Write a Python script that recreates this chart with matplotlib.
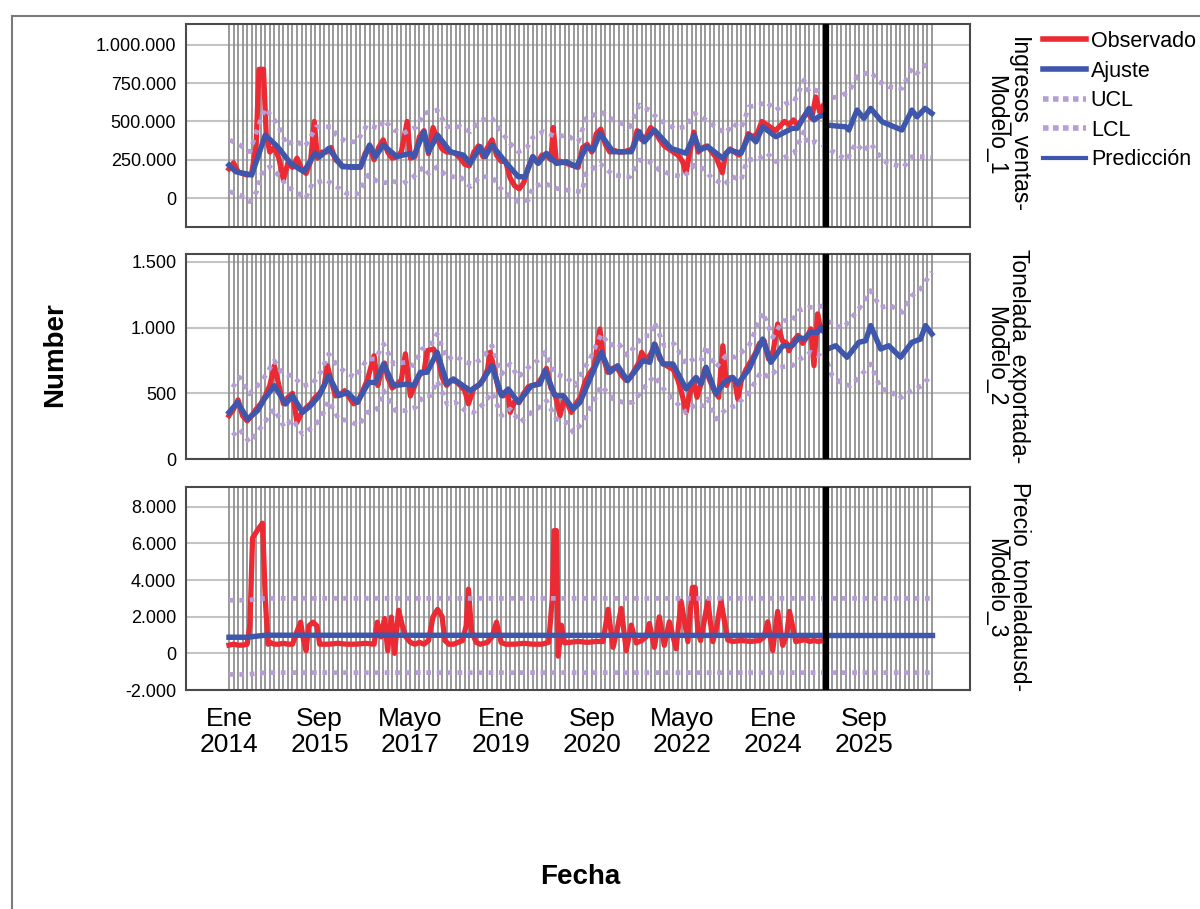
import matplotlib
matplotlib.use("Agg")
import matplotlib.pyplot as plt
from matplotlib.lines import Line2D
from matplotlib.ticker import FuncFormatter

plt.rcParams['font.family'] = ['Liberation Sans', 'DejaVu Sans']

# ---- data: (month index since Jan 2014, value) ----
# Panel 1: Ingresos_ventas (values in thousands)
ing_obs = [(0, 190), (1, 230), (2, 170), (3, 160), (4, 150), (5, 160), (6, 350), (6.6, 840), (7.6, 840),
           (8.2, 420), (9, 300), (10, 330), (11, 260), (12, 120), (13, 230), (14, 200), (15, 260), (16, 190),
           (17, 160), (18, 240), (18.8, 500), (19.5, 260), (20.5, 300), (21.5, 300), (22.5, 330), (23.5, 250),
           (25, 210), (27, 200), (29, 200), (30, 290), (31, 340), (32, 250), (33, 330), (34, 380), (35, 300),
           (36, 260), (37, 270), (38, 300), (39.3, 500), (40, 260), (41, 270), (42, 400), (43, 440), (44, 290),
           (45, 460), (46, 380), (47, 320), (48, 300), (49, 300), (50, 290), (51, 260), (52, 220), (53, 210),
           (54, 300), (55, 340), (56, 270), (57, 330), (58, 380), (59, 280), (60, 240), (61, 240), (62, 130),
           (63, 80), (64, 60), (65, 100), (66, 200), (67, 270), (68, 230), (69, 280), (70, 280), (71, 250),
           (71.5, 460), (72.2, 230), (73, 240), (74, 230), (75, 220), (76, 210), (77, 200), (78, 330), (79, 350),
           (80, 300), (81, 420), (82, 450), (83, 350), (84, 300), (85, 310), (86, 300), (87, 300), (88, 310),
           (89, 320), (90, 440), (91, 380), (92, 400), (93, 460), (94, 430), (95, 380), (96, 340), (97, 320),
           (98, 300), (99, 280), (100, 240), (100.8, 165), (101.5, 280), (102.5, 430), (103.5, 300),
           (104.5, 330), (105.5, 340), (106.5, 300), (107.5, 260), (108.8, 165), (109.5, 290), (110.5, 320),
           (111.5, 300), (112.5, 280), (113.5, 330), (114.5, 420), (115.5, 400), (116.5, 420), (117.5, 500),
           (118.5, 480), (119.5, 460), (120.5, 440), (121.5, 470), (122.5, 500), (123.5, 480), (124.5, 510),
           (125.5, 470), (126.5, 520), (127.5, 560), (128.5, 520), (129.4, 660), (130.3, 560), (131, 600)]
ing_fit = [(0, 215), (1.5, 172), (5, 150), (8, 411), (10.7, 335), (13.6, 226), (16.5, 172), (19, 293), (20, 270),
           (22, 324), (25, 204), (29, 204), (31, 346), (32.3, 270), (34, 346), (37, 270), (40, 292), (40.7, 270),
           (43, 433), (44, 302), (46, 411), (48.8, 302), (51.7, 280), (53.2, 226), (55.4, 335), (56.5, 270),
           (58, 346), (61.2, 226), (63.8, 139), (65.3, 139), (67, 270), (68.2, 226), (70, 292), (72.2, 226),
           (74.4, 237), (76.6, 204), (78.8, 335), (80.3, 313), (81.8, 422), (84.7, 302), (88.7, 302), (90.5, 433),
           (91.6, 367), (93.8, 444), (97.5, 324), (100.8, 292), (102.6, 411), (103.7, 313), (105.6, 335),
           (108.9, 259), (110.3, 313), (112.9, 292), (114.7, 411), (116.2, 367), (117.7, 465), (120.6, 400),
           (124.2, 455), (125.3, 455), (127.9, 585), (129, 509), (130, 530), (131, 541)]
ing_ucl = [(0.2, 378), (2.4, 346), (4.6, 302), (6.5, 470), (7.9, 585), (9.8, 520), (11.3, 444), (12.7, 346),
           (14.5, 378), (16.7, 335), (19.3, 465), (21.5, 465), (22.6, 465), (23.7, 411), (25.9, 367), (28.2, 367),
           (30.4, 476), (33.3, 455), (34.1, 509), (36.3, 444), (38.4, 422), (41.4, 465), (42.9, 552), (45.9, 574),
           (48.1, 465), (51, 465), (53.2, 433), (55.4, 509), (58, 520), (59.8, 444), (62, 357), (63.8, 302),
           (65.6, 324), (67.1, 400), (69.3, 433), (72.2, 400), (74.4, 411), (77, 367), (78.8, 520), (82.1, 563),
           (84.7, 509), (88.4, 465), (90.5, 607), (92.7, 574), (94.9, 509), (98.2, 455), (100.8, 465),
           (102.6, 552), (105.2, 509), (107.7, 455), (109.6, 422), (111, 487), (112.9, 455), (114.7, 596),
           (116.9, 607), (118.4, 628), (120.6, 574), (122.8, 617), (124.6, 628), (125.7, 694), (126.8, 770),
           (127.9, 694), (129.4, 705), (131, 672),
           (132, 653), (134.5, 660), (136.7, 694), (138.5, 792), (141.5, 824), (143.3, 759), (145.5, 727),
           (148.4, 716), (150.6, 847), (151.7, 814), (153.5, 868), (155, 850)]
ing_lcl = [(0.2, 41), (2.4, 20), (4.6, -24), (6.1, 41), (7.5, 183), (9, 204), (11.3, 139), (12.7, 74), (14.8, 41),
           (16.9, -2), (18.4, 96), (21.5, 117), (23.7, 74), (25.9, 30), (28.5, 30), (30.7, 150), (33.3, 96),
           (36.3, 107), (38.4, 96), (40.7, 139), (42.9, 204), (44, 161), (45.9, 204), (48.1, 139), (51, 139),
           (53.2, 74), (55.4, 139), (58, 139), (60.5, 41), (63.8, -24), (66, -13), (67.1, 74), (69.6, 96),
           (72.2, 63), (74.4, 52), (77.8, 41), (78.8, 161), (81.8, 226), (84.7, 150), (88.4, 139), (90.5, 248),
           (92.7, 237), (94.9, 183), (97.9, 150), (100.4, 139), (102.6, 215), (104.4, 194), (106.6, 128),
           (109.2, 85), (111, 139), (112.9, 117), (114.3, 248), (116.9, 259), (118.7, 292), (120.6, 237),
           (122.8, 270), (124.6, 292), (126.8, 433), (127.5, 357), (129.4, 367), (131, 346),
           (132, 324), (134.5, 281), (136.3, 248), (138.2, 357), (140, 302), (141.5, 357), (143.3, 281),
           (145.2, 226), (148.8, 204), (150.6, 270), (153.5, 270), (155, 265)]
ing_pred = [(132, 476), (134, 470), (136, 465), (136.7, 444), (138.5, 574), (140, 520), (141.5, 585), (144, 498),
            (148.4, 444), (150.6, 574), (151.7, 530), (153.5, 585), (155, 552)]

# Panel 2: Tonelada_exportada
ton_obs = [(0, 330), (1, 380), (2, 450), (3, 330), (4, 290), (5, 330), (6, 380), (7, 420), (8, 480), (9, 560),
           (10, 710), (11, 560), (12, 420), (13, 470), (14, 500), (15, 280), (16, 350), (17, 390), (18, 420),
           (19, 470), (20, 500), (21, 560), (21.7, 710), (22.5, 600), (23.5, 480), (24.5, 490), (25.5, 520),
           (26.5, 470), (27.5, 420), (28.5, 440), (29.5, 520), (30.5, 600), (32, 786), (32.8, 560), (33.5, 650),
           (34.3, 730), (35, 620), (36, 540), (37, 570), (38, 600), (38.9, 800), (40, 480), (41, 560), (42, 640),
           (43, 660), (43.7, 824), (45.1, 837), (46, 780), (47, 620), (48, 560), (49, 600), (50, 590), (51, 560),
           (52, 520), (52.8, 420), (54, 540), (55, 560), (56, 600), (57, 680), (57.6, 812), (58.5, 680),
           (59.5, 520), (60.5, 480), (61.5, 520), (62, 355), (63, 440), (64, 430), (65, 500), (66, 550), (67, 560),
           (68, 570), (69, 620), (70, 690), (71, 540), (72, 480), (73, 330), (74, 470), (75.5, 355), (76.5, 420),
           (77.5, 470), (78.5, 583), (79.5, 650), (80.5, 700), (81.8, 989), (82.5, 780), (83.5, 660), (84.5, 690),
           (85.5, 700), (86.5, 640), (87.5, 600), (88.5, 620), (89.5, 680), (90.5, 740), (91, 812), (92, 750),
           (93, 800), (94, 870), (95, 760), (96, 720), (97, 700), (98, 680), (99, 600), (100, 480), (100.8, 355),
           (101.5, 480), (102.5, 600), (103.2, 470), (104, 560), (105, 690), (106, 600), (107, 520), (108, 470),
           (108.9, 862), (109.7, 560), (110.5, 620), (111.5, 600), (112.2, 457), (113, 600), (114, 680),
           (115, 740), (116, 800), (117, 880), (118, 900), (119, 760), (120, 820), (121, 1027), (122, 900),
           (123, 880), (123.5, 824), (124.5, 900), (125.5, 940), (126.5, 880), (127.5, 930), (128.3, 990),
           (129, 710), (129.8, 1104), (130.5, 980), (131, 1000)]
ton_fit = [(0, 355), (1.9, 431), (4.1, 304), (6.3, 368), (7.8, 457), (10, 558), (12.5, 419), (14, 482), (16.2, 355),
           (18, 406), (19.9, 482), (22, 634), (24.2, 482), (26.1, 507), (28.3, 431), (30.8, 583), (32.3, 583),
           (34.1, 723), (36.3, 558), (39.3, 571), (40.7, 558), (42.2, 660), (43.7, 660), (45.9, 812), (48.1, 571),
           (49.5, 609), (53.2, 520), (55.4, 571), (58, 710), (60.1, 482), (61.6, 533), (63.8, 431), (66.7, 558),
           (68.6, 571), (69.7, 672), (71.9, 482), (73.7, 482), (75.9, 381), (77.4, 431), (78.8, 545), (82.1, 812),
           (84, 660), (85.7, 710), (87.9, 596), (91.3, 748), (92.8, 736), (93.8, 875), (95.7, 723), (97.9, 723),
           (100.8, 533), (103, 621), (104.1, 571), (105.2, 698), (107.4, 495), (109.2, 583), (111.1, 621),
           (112.2, 571), (114.7, 685), (117.7, 913), (119.5, 736), (122.1, 862), (124.2, 862), (125.7, 926),
           (126.8, 913), (128.3, 964), (129.8, 964), (130.5, 1002), (131, 977)]
ton_ucl = [(0.8, 545), (2.3, 622), (4.5, 495), (6.3, 558), (7.8, 622), (10, 748), (11.8, 647), (14, 634),
           (16.2, 558), (18.4, 571), (20.2, 660), (22, 799), (23.9, 710), (25.7, 660), (27.9, 622), (30.5, 761),
           (32.3, 761), (34.1, 875), (36.3, 723), (38.9, 736), (40.7, 710), (42.6, 837), (44.4, 862), (45.9, 951),
           (48.1, 761), (49.9, 786), (52.1, 736), (53.9, 723), (55.7, 761), (58, 862), (60.1, 647), (62, 723),
           (63.8, 622), (66.4, 710), (68.6, 761), (69.7, 812), (71.9, 647), (74.4, 622), (76.3, 558), (77.4, 634),
           (79.6, 761), (82.1, 951), (84, 862), (85.7, 888), (87.9, 786), (91.3, 938), (92.8, 938), (93.8, 1040),
           (96, 862), (98.2, 875), (100.8, 723), (103, 774), (104.5, 761), (105.2, 862), (107.4, 698),
           (109.6, 786), (111.8, 774), (114.7, 862), (117.7, 1116), (119.9, 926), (122.1, 1053), (124.2, 1053),
           (125.7, 1129), (127.9, 1154), (129.8, 1154), (131, 1167),
           (133, 1015), (135.6, 1002), (138.9, 1142), (141.5, 1281), (143.7, 1154), (145.9, 1167), (148.5, 1116),
           (150.6, 1243), (152.5, 1294), (155, 1421)]
ton_lcl = [(0.8, 178), (2.3, 228), (4.5, 127), (6.3, 203), (7.8, 279), (10, 381), (12.2, 241), (14, 304),
           (16.2, 190), (18.4, 241), (20.2, 304), (22, 444), (24.2, 304), (26.4, 292), (28.6, 254), (30.5, 355),
           (32.7, 381), (34.1, 520), (36.7, 368), (38.9, 368), (41.1, 393), (42.9, 482), (44.4, 482), (45.9, 596),
           (48.1, 419), (49.9, 431), (52.1, 368), (53.9, 355), (56.1, 419), (58, 507), (60.1, 330), (62, 381),
           (64.2, 279), (66.7, 355), (69, 406), (70, 444), (72.2, 304), (74.4, 279), (75.9, 203), (78.1, 279),
           (80.3, 431), (82.1, 558), (84.7, 457), (86.9, 431), (89.1, 431), (91.3, 533), (93.8, 634), (96.4, 507),
           (98.6, 431), (100.8, 355), (103, 419), (104.5, 406), (105.6, 457), (107.4, 304), (109.6, 381),
           (111.8, 406), (114.7, 507), (117.3, 660), (119.1, 622), (121.3, 698), (124.2, 710), (126, 761),
           (128.3, 812), (129.8, 786), (131, 824),
           (133, 634), (135.3, 571), (137, 558), (139.3, 634), (141.5, 723), (143.7, 533), (145.9, 520),
           (147.7, 457), (149.9, 507), (152.8, 558), (155, 640)]
ton_pred = [(132, 837), (133.8, 862), (136.3, 774), (138.9, 888), (140.4, 900), (141.5, 1015), (143.7, 837),
            (145.5, 862), (148.1, 774), (150.6, 888), (152.5, 913), (153.6, 1015), (155, 951)]

# Panel 3: Precio_toneladausd
pre_obs = [(0, 450), (1, 500), (2, 450), (3, 450), (4, 500), (4.6, 1500), (5.2, 6300), (6.5, 6800), (7.4, 7100),
           (8, 3000), (8.6, 500), (9, 600), (10, 500), (11, 500), (12, 550), (13, 500), (14, 500), (15, 1200),
           (15.8, 1700), (16.3, 900), (17, 150), (17.6, 1500), (18.5, 1700), (19.4, 1500), (20, 500), (22, 500),
           (24, 550), (26, 500), (28, 500), (30, 550), (32, 500), (32.7, 1700), (33.5, 900), (34.3, 1900),
           (35, 150), (35.8, 1980), (36.5, 0), (37.4, 2350), (38.2, 1540), (39, 900), (40, 600), (41, 500),
           (42, 600), (43, 500), (44, 700), (45, 2000), (46, 2400), (47, 2000), (47.6, 700), (48.5, 500),
           (49.5, 500), (50.5, 600), (51.5, 700), (52.3, 1500), (52.8, 3500), (53.5, 1200), (54.5, 600),
           (55.4, 500), (57, 600), (58, 900), (59, 1700), (60, 600), (61, 500), (63, 500), (65, 550), (67, 500),
           (69, 500), (70.5, 600), (71.3, 3000), (71.7, 6700), (72.2, 6700), (72.6, -150), (73.3, 1540),
           (74, 570), (75, 600), (77, 650), (79, 600), (81, 650), (82.5, 650), (83.6, 2400), (84.7, 330),
           (85.6, 1300), (86.5, 2450), (87.6, 150), (88.7, 1540), (89.8, 570), (91, 700), (92, 900), (92.7, 1630),
           (93.8, 330), (94.9, 1990), (96, 440), (97.1, 1720), (98.6, 250), (99.7, 2840), (101.2, 640),
           (101.8, 2500), (102.2, 3600), (102.8, 3600), (103.4, 1170), (104, 700), (105.6, 2840), (106.7, 640),
           (107.5, 1400), (108.5, 2840), (110, 730), (111, 650), (113, 700), (115, 650), (117, 700), (118, 900),
           (118.8, 1720), (119.9, 150), (121, 2290), (122.1, 440), (123, 1000), (123.6, 2290), (125, 640),
           (126, 700), (127, 750), (128, 650), (129, 700), (130, 650), (131, 700)]
pre_fit = [(0, 880), (4, 880), (8, 990), (131, 980)]
pre_ucl = [(0, 2900), (4, 2900), (8, 3000), (155, 3000)]
pre_lcl = [(0, -1150), (4, -1150), (8, -1050), (155, -1050)]
pre_pred = [(132, 980), (155, 980)]

n_months = 156
forecast_start = 131.6
date_ticks = [0, 20, 40, 60, 80, 100, 120, 140]
date_labels = ['Ene\n2014', 'Sep\n2015', 'Mayo\n2017', 'Ene\n2019', 'Sep\n2020', 'Mayo\n2022', 'Ene\n2024',
               'Sep\n2025']
panel_names = ['Ingresos_ventas-\nModelo_1', 'Tonelada_exportada-\nModelo_2', 'Precio_toneladausd-\nModelo_3']

RED = '#ec2a33'
BLUE = '#3e56ab'
LAV = '#b79dd6'


def xy(pairs, scale=1):
    return [p[0] for p in pairs], [p[1] * scale for p in pairs]


def thousands(v, pos):
    return f"{int(round(v)):,}".replace(",", ".")


fig = plt.figure(figsize=(12, 9.09), dpi=100)

panels = [
    dict(rect=[0.155, 0.7503, 0.6533, 0.2233], ylim=(-189000, 1136000), yticks=[0, 250000, 500000, 750000, 1000000],
         obs=ing_obs, fit=ing_fit, ucl=ing_ucl, lcl=ing_lcl, pred=ing_pred, scale=1000),
    dict(rect=[0.155, 0.4950, 0.6533, 0.2255], ylim=(0, 1559), yticks=[0, 500, 1000, 1500],
         obs=ton_obs, fit=ton_fit, ucl=ton_ucl, lcl=ton_lcl, pred=ton_pred, scale=1),
    dict(rect=[0.155, 0.2409, 0.6533, 0.2233], ylim=(-2000, 9075), yticks=[-2000, 0, 2000, 4000, 6000, 8000],
         obs=pre_obs, fit=pre_fit, ucl=pre_ucl, lcl=pre_lcl, pred=pre_pred, scale=1),
]

for i, p in enumerate(panels):
    ax = fig.add_axes(p['rect'])
    ax.set_xlim(-9.48, 163.4)
    ax.set_ylim(*p['ylim'])
    ax.set_yticks(p['yticks'])
    ax.yaxis.set_major_formatter(FuncFormatter(thousands))
    for yt in p['yticks']:
        ax.axhline(yt, color='#c4c4c4', lw=1.5, zorder=1)
    for m in range(n_months):
        ax.axvline(m, color='#8c8c8c', lw=1.25, zorder=1.5)
    s = p['scale']
    ax.plot(*xy(p['ucl'], s), color=LAV, lw=3.4, linestyle=(0, (1, 1.2)), dash_capstyle='butt', zorder=4)
    ax.plot(*xy(p['lcl'], s), color=LAV, lw=3.4, linestyle=(0, (1, 1.2)), dash_capstyle='butt', zorder=4)
    ax.plot(*xy(p['obs'], s), color=RED, lw=3.8, zorder=3)
    ax.plot(*xy(p['fit'], s), color=BLUE, lw=3.9, zorder=5)
    ax.plot(*xy(p['pred'], s), color=BLUE, lw=3.9, zorder=5)
    ax.axvline(forecast_start, color='black', lw=4.5, zorder=6)

    ax.tick_params(axis='y', length=0, pad=7, labelsize=13)
    ax.tick_params(axis='x', length=0, pad=12, labelsize=19)
    ax.set_xticks(date_ticks)
    if i == 2:
        ax.set_xticklabels(date_labels, linespacing=1.1)
    else:
        ax.set_xticklabels([])
    for sp in ax.spines.values():
        sp.set_color('#4a4a4a')
        sp.set_linewidth(1.5)

    ymid = p['rect'][1] + p['rect'][3] / 2
    fig.text(1007 / 1200, ymid, panel_names[i], rotation=270, ha='center', va='center',
             multialignment='center', fontsize=16.5, linespacing=0.95)

fig.text(55 / 1200, 1 - 355 / 909, 'Number', rotation=90, ha='center', va='center',
         fontsize=20, fontweight='bold')
fig.text(580 / 1200, 1 - 877 / 909, 'Fecha', ha='center', va='center', fontsize=20, fontweight='bold')

handles = [Line2D([], [], color=RED, lw=4),
           Line2D([], [], color=BLUE, lw=4),
           Line2D([], [], color=LAV, lw=4, linestyle=(0, (1, 0.8))),
           Line2D([], [], color=LAV, lw=4, linestyle=(0, (1, 0.8))),
           Line2D([], [], color=BLUE, lw=3)]
fig.legend(handles, ['Observado', 'Ajuste', 'UCL', 'LCL', 'Predicción'], loc='upper left',
           bbox_to_anchor=(1043 / 1200, 1 - 31 / 909), frameon=False, fontsize=15.5,
           handlelength=2.0, handletextpad=0.22, labelspacing=0.4, borderaxespad=0, borderpad=0)

# outer frame of the output viewer
fig.add_artist(Line2D([12 / 1200, 12 / 1200], [0, 1 - 16 / 909], transform=fig.transFigure,
                      color='#7a7a7a', lw=1.5))
fig.add_artist(Line2D([12 / 1200, 1], [1 - 16 / 909, 1 - 16 / 909], transform=fig.transFigure,
                      color='#7a7a7a', lw=1.5))

fig.savefig('out.png', dpi=100, facecolor='white')
